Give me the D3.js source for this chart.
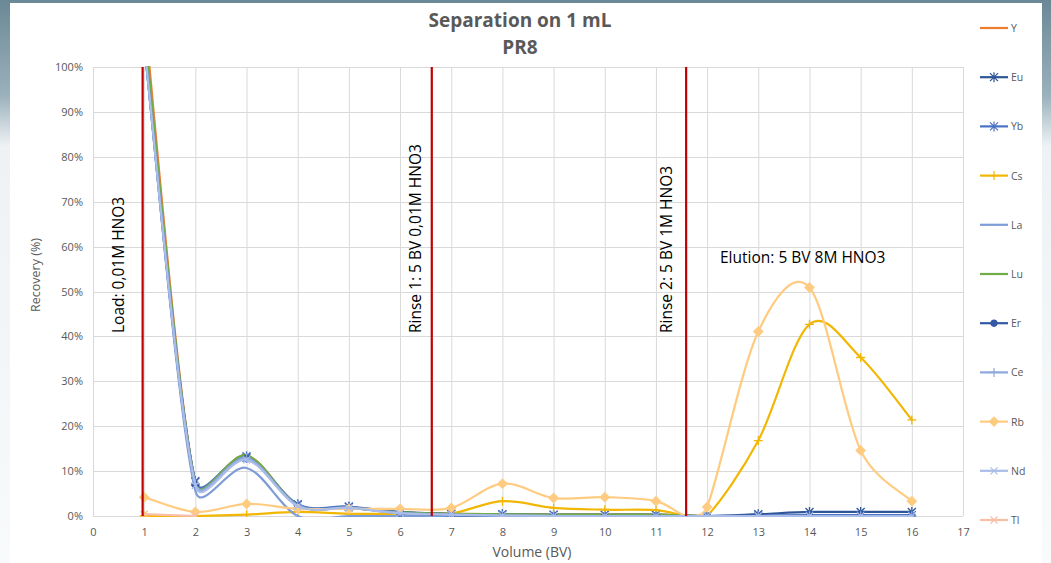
<!DOCTYPE html>
<html>
<head>
<meta charset="utf-8">
<script src="https://cdn.jsdelivr.net/npm/d3@7"></script>
<style>
  html, body { margin: 0; padding: 0; background: #fff; }
  svg { display: block; }
  text { font-family: "Open Sans", "Liberation Sans", sans-serif; }
</style>
</head>
<body>
<svg id="chart" width="1051" height="563"></svg>
<script>
// Volume fractions (bed volumes) and recovery (%) per element
const volume = [1, 2, 3, 4, 5, 6, 7, 8, 9, 10, 11, 12, 13, 14, 15, 16];
const volumeRb = [1, 2, 3, 4, 5, 6, 7, 8, 9, 10, 11, 11.6, 12, 13, 14, 15, 16];
const volumeTl = [1, 2];

const recY  = [112, 7.4, 13.5, 2.4, 1.8, 0.8, 0.5, 0.4, 0.3, 0.3, 0.3, 0, 0, 0, 0, 0];
const recEu = [106, 7.6, 13.0, 2.5, 2.0, 0.9, 0.5, 0.4, 0.3, 0.3, 0.3, 0, 0.4, 0.9, 0.9, 0.9];
const recYb = [106, 7.8, 13.3, 2.6, 2.1, 0.8, 0.4, 0.3, 0.2, 0.2, 0.2, 0, 0.1, 0.2, 0.2, 0.2];
const recCs = [0, 0, 0.3, 0.9, 0.5, 0.5, 0.6, 3.3, 1.8, 1.4, 1.3, 0, 0, 16.8, 42.7, 35.3, 21.4];
const recLa = [105, 5.6, 10.7, 0, 0, 0, 0, 0, 0, 0, 0, 0, 0, 0, 0, 0];
const recLu = [109, 7.4, 13.5, 2.4, 1.8, 0.8, 0.5, 0.4, 0.3, 0.3, 0.3, 0, 0, 0, 0, 0];
const recEr = [105, 7.0, 12.8, 2.3, 1.9, 0.6, 0.2, 0, 0, 0, 0, 0, 0, 0, 0, 0];
const recCe = [105, 7.2, 12.9, 2.4, 1.9, 0.7, 0.3, 0.1, 0, 0, 0, 0, 0, 0, 0, 0];
const recRb = [4.2, 0.9, 2.7, 1.6, 1.6, 1.6, 1.8, 7.2, 4.0, 4.2, 3.3, 0, 2.0, 41.1, 50.9, 14.6, 3.3];
const recNd = [105, 6.8, 12.5, 2.2, 1.8, 0.6, 0.3, 0.1, 0, 0, 0, 0, 0, 0, 0, 0];
const recTl = [0.4, 0];

// Step boundaries (BV) and their labels
const stepAt = [0.97, 6.62, 11.59];
const stepLabels = ["Load: 0,01M HNO3", "Rinse 1: 5 BV 0,01M HNO3", "Rinse 2: 5 BV 1M HNO3"];
const elutionLabel = "Elution: 5 BV 8M HNO3";

const xTicks = d3.range(0, 18);
const yTicks = d3.range(0, 101, 10);
const titleLines = ["Separation on 1 mL", "PR8"];

const series = [
  { name: "Y",  x: volume,   y: recY,  color: "#ED7D31", marker: null },
  { name: "Eu", x: volume,   y: recEu, color: "#2E5597", marker: "asterisk" },
  { name: "Yb", x: volume,   y: recYb, color: "#4A72C4", marker: "asterisk" },
  { name: "Cs", x: volumeRb, y: recCs, color: "#F2B705", marker: "plus" },
  { name: "La", x: volume,   y: recLa, color: "#7E9CD6", marker: null },
  { name: "Lu", x: volume,   y: recLu, color: "#70AD47", marker: null },
  { name: "Er", x: volume,   y: recEr, color: "#3358A6", marker: "circle" },
  { name: "Ce", x: volume,   y: recCe, color: "#8DA7DC", marker: "plus" },
  { name: "Rb", x: volumeRb, y: recRb, color: "#FFCB80", marker: "diamond" },
  { name: "Nd", x: volume,   y: recNd, color: "#A9BDE8", marker: "cross" },
  { name: "Tl", x: volumeTl, y: recTl, color: "#F8BFA8", marker: "cross" }
];

// Smoothed line: cubic Bezier through every point, with control handles
// one sixth of the neighbour chord, capped relative to the segment length.
function smoothCurve(context) {
  let pts;
  return {
    areaStart() {}, areaEnd() {},
    lineStart() { pts = []; },
    point(px, py) { pts.push([+px, +py]); },
    lineEnd() {
      const n = pts.length;
      if (!n) return;
      context.moveTo(pts[0][0], pts[0][1]);
      for (let i = 0; i < n - 1; i++) {
        const p0 = pts[Math.max(i - 1, 0)], p1 = pts[i], p2 = pts[i + 1], p3 = pts[Math.min(i + 2, n - 1)];
        const lim = 0.45 * Math.hypot(p2[0] - p1[0], p2[1] - p1[1]);
        let a = [(p2[0] - p0[0]) / 6, (p2[1] - p0[1]) / 6];
        let b = [(p3[0] - p1[0]) / 6, (p3[1] - p1[1]) / 6];
        const la = Math.hypot(a[0], a[1]); if (la > lim) a = a.map(v => v * lim / la);
        const lb = Math.hypot(b[0], b[1]); if (lb > lim) b = b.map(v => v * lim / lb);
        context.bezierCurveTo(p1[0] + a[0], p1[1] + a[1], p2[0] - b[0], p2[1] - b[1], p2[0], p2[1]);
      }
    }
  };
}

const svg = d3.select("#chart");
const W = 1051, H = 563;

// Slide backdrop
const defs = svg.append("defs");
const grad = defs.append("linearGradient").attr("id", "slideBg")
  .attr("x1", 0).attr("y1", 0).attr("x2", 0).attr("y2", 1);
grad.append("stop").attr("offset", "0%").attr("stop-color", "#6B8896");
grad.append("stop").attr("offset", "17%").attr("stop-color", "#9BB1BC");
grad.append("stop").attr("offset", "26%").attr("stop-color", "#EEF2F4");
grad.append("stop").attr("offset", "100%").attr("stop-color", "#F8FAFB");
svg.append("rect").attr("width", W).attr("height", H).attr("fill", "url(#slideBg)");
svg.append("rect").attr("x", 10).attr("y", 3).attr("width", 1032).attr("height", H - 3).attr("fill", "#fff");

const plot = { left: 93, right: 963, top: 67, bottom: 516 };
const x = d3.scaleLinear().domain([0, 17]).range([plot.left, plot.right]);
const y = d3.scaleLinear().domain([0, 100]).range([plot.bottom, plot.top]);

defs.append("clipPath").attr("id", "plotClip").append("rect")
  .attr("x", plot.left).attr("y", plot.top - 1)
  .attr("width", plot.right - plot.left).attr("height", plot.bottom - plot.top + 2);

// Grid
const grid = svg.append("g");
grid.selectAll("line.v").data(xTicks).join("line")
  .attr("x1", d => x(d) + 0.5).attr("x2", d => x(d) + 0.5)
  .attr("y1", plot.top).attr("y2", plot.bottom)
  .attr("stroke", "#D9D9D9").attr("stroke-width", 1);
grid.selectAll("line.h").data(yTicks).join("line")
  .attr("x1", plot.left).attr("x2", plot.right)
  .attr("y1", d => Math.round(y(d)) + 0.5).attr("y2", d => Math.round(y(d)) + 0.5)
  .attr("stroke", "#D9D9D9").attr("stroke-width", 1);

// Axes
const xAxis = d3.axisBottom(x).tickValues(xTicks).tickSize(0).tickPadding(12).tickFormat(d3.format("d"));
const gx = svg.append("g").attr("transform", `translate(0,${plot.bottom})`).call(xAxis);
gx.select(".domain").remove();
gx.selectAll("text").attr("fill", "#595959").attr("font-size", 11);

const yAxis = d3.axisLeft(y).tickValues(yTicks).tickSize(0).tickPadding(10).tickFormat(d => d + "%");
const gy = svg.append("g").attr("transform", `translate(${plot.left},0)`).call(yAxis);
gy.select(".domain").remove();
gy.selectAll("text").attr("fill", "#595959").attr("font-size", 11);

// Axis titles
svg.append("text").attr("x", 532).attr("y", 557).attr("text-anchor", "middle")
  .attr("fill", "#595959").attr("font-size", 14).text("Volume (BV)");
svg.append("text").attr("transform", "translate(40,275) rotate(-90)").attr("text-anchor", "middle")
  .attr("fill", "#595959").attr("font-size", 12.5).text("Recovery (%)");

// Chart title
svg.selectAll("text.title").data(titleLines).join("text")
  .attr("class", "title")
  .attr("x", 520).attr("y", (d, i) => 27 + i * 27)
  .attr("text-anchor", "middle").attr("fill", "#595959")
  .attr("font-size", 19).attr("font-weight", "bold").text(d => d);

// Series lines
const lineGen = d3.line().curve(smoothCurve);
const lines = svg.append("g").attr("clip-path", "url(#plotClip)");

const markerPaths = {
  asterisk: "M-4,-4L4,4M-4,4L4,-4M0,-5L0,5",
  cross: "M-3.5,-3.5L3.5,3.5M-3.5,3.5L3.5,-3.5",
  plus: "M-4.5,0L4.5,0M0,-4.5L0,4.5",
  diamond: "M0,-4.5L4.5,0L0,4.5L-4.5,0Z",
  circle: d3.symbol(d3.symbolCircle, 30)()
};
const filledMarkers = new Set(["diamond", "circle"]);

series.forEach(s => {
  const pts = s.x.map((v, i) => [x(v), y(s.y[i])]);
  lines.append("path").attr("d", lineGen(pts))
    .attr("fill", "none").attr("stroke", s.color).attr("stroke-width", 2.2)
    .attr("stroke-linejoin", "round").attr("stroke-linecap", "round");
  if (s.marker) {
    const mk = pts.filter((p, i) => Number.isInteger(s.x[i]) && s.y[i] <= 100);
    lines.selectAll(null).data(mk).join("path")
      .attr("transform", d => `translate(${d[0]},${d[1]})`)
      .attr("d", markerPaths[s.marker])
      .attr("fill", filledMarkers.has(s.marker) ? s.color : "none")
      .attr("stroke", s.color).attr("stroke-width", 1.3);
  }
});

// Step boundaries
svg.selectAll("line.step").data(stepAt).join("line")
  .attr("x1", d => x(d)).attr("x2", d => x(d))
  .attr("y1", y(100)).attr("y2", y(0))
  .attr("stroke", "#C00000").attr("stroke-width", 2.2);

const stepLabelX = [118, 415, 666];
svg.selectAll("text.step").data(stepLabels).join("text")
  .attr("transform", (d, i) => `translate(${stepLabelX[i] + 6},333) rotate(-90)`)
  .attr("fill", "#000").attr("font-size", 15.5).text(d => d);

svg.append("text").attr("x", 720).attr("y", 263)
  .attr("fill", "#000").attr("font-size", 15.5).text(elutionLabel);

// Legend
const legend = svg.append("g");
series.forEach((s, i) => {
  const ly = 28 + i * 49.2;
  const g = legend.append("g").attr("transform", `translate(980,${ly})`);
  g.append("line").attr("x1", 0).attr("x2", 28).attr("y1", 0).attr("y2", 0)
    .attr("stroke", s.color).attr("stroke-width", 2.2);
  if (s.marker) {
    g.append("path").attr("transform", "translate(14,0)").attr("d", markerPaths[s.marker])
      .attr("fill", filledMarkers.has(s.marker) ? s.color : "none")
      .attr("stroke", s.color).attr("stroke-width", 1.2);
  }
  g.append("text").attr("x", 31).attr("y", 4).attr("fill", "#595959")
    .attr("font-size", 10.5).text(s.name);
});
</script>
</body>
</html>
